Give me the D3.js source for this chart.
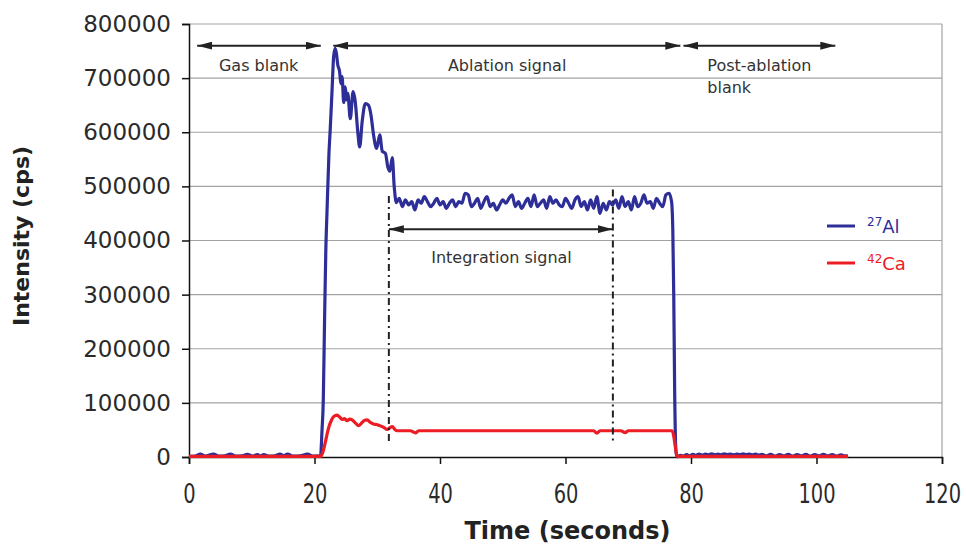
<!DOCTYPE html>
<html>
<head>
<meta charset="utf-8">
<script src="https://cdn.jsdelivr.net/npm/d3@7"></script>
<style>
  body { margin: 0; background: #fff; }
  svg { display: block; font-family: "DejaVu Sans", Verdana, sans-serif; }
</style>
</head>
<body>
<div id="chart"></div>
<script>
// ---- data ----
const xTicks = [0, 20, 40, 60, 80, 100, 120];
const yTicks = [0, 100000, 200000, 300000, 400000, 500000, 600000, 700000, 800000];

const alTime = [
  0, 1, 1.8, 2.6, 3.9, 4.8, 5.7, 6.6, 7.5, 8.4, 9.3, 10.1, 10.9, 11.4, 11.9, 12.8, 13.7, 14.5, 15.1, 15.7,
  16.6, 17.7, 18.9, 19.7, 20.5, 20.95,
  21.2, 21.4, 21.6, 21.8, 22.0, 22.3, 22.5, 22.8, 23.05, 23.3, 23.5, 23.7, 24.0, 24.2, 24.4, 24.65, 24.9,
  25.1, 25.3, 25.7, 26.15, 26.5, 26.9, 27.2, 27.6, 28.1, 28.6, 29.0, 29.4, 29.9, 30.4, 30.8, 31.3, 31.7,
  32.0, 32.4, 32.7, 33.05,
  33.5, 34, 34.5, 35, 35.5, 36, 36.5, 37, 37.5, 38, 38.5, 39, 39.5, 40, 40.5, 41, 41.5, 42, 42.5, 43,
  43.5, 44, 44.5, 45, 45.5, 46, 46.5, 47, 47.5, 48, 48.5, 49, 49.5, 50, 50.5, 51, 51.5, 52, 52.5, 53,
  53.5, 54, 54.5, 55, 55.5, 56, 56.5, 57, 57.5, 58, 58.5, 59, 59.5, 60, 60.5, 61, 61.5, 62, 62.5, 63,
  63.5, 64, 64.5, 65, 65.5, 66, 66.5, 67, 67.5, 68, 68.5, 69, 69.5, 70, 70.5, 71, 71.5, 72, 72.5, 73,
  73.5, 74, 74.5, 75, 75.5, 76, 76.5,
  76.9, 77.1, 77.25, 77.4, 77.6, 77.8,
  78.3, 78.8, 79.3, 79.8, 80.3, 80.8, 81.3, 81.8, 82.3, 82.8, 83.3, 83.8, 84.3, 84.8, 85.3, 85.8, 86.3,
  86.8, 87.3, 87.8, 88.3, 88.8, 89.3, 89.8, 90.3, 90.8, 91.3, 92.0, 92.7, 93.4, 94.1, 94.8, 95.5, 96.2,
  96.9, 97.6, 98.3, 99.0, 99.7, 100.4, 101.1, 101.8, 102.5, 103.2, 103.9, 104.6, 105.0
];
const alValue = [
  1000, 1500, 5500, 1500, 5500, 1500, 2000, 5500, 1500, 2000, 5000, 1500, 4500, 1500, 4500, 1500, 2000, 5500, 2500, 5500,
  1500, 2000, 5500, 1500, 2000, 1000,
  50000, 105000, 250000, 380000, 456000, 560000, 604000, 678000, 740000, 755000, 745000, 725000, 712000, 690000, 703000, 655000, 684000,
  660000, 672000, 625000, 675000, 656000, 600000, 573000, 620000, 653000, 650000, 632000, 596000, 570000, 595000, 565000, 561000, 535000,
  528000, 553000, 500000, 470000,
  478000, 462600, 475000, 465700, 471800, 456500, 475000, 468800, 481000, 471800,
  462600, 468800, 478000, 465700, 471800, 459500, 468800, 475000, 462600, 471800,
  468800, 487300, 484200, 462600, 468800, 478000, 459500, 471800, 481000, 462600,
  468800, 456500, 465700, 475000, 468800, 478000, 484200, 462600, 471800, 459500,
  468800, 478000, 462600, 484200, 462600, 468800, 475000, 459500, 481000, 468800,
  475000, 465700, 462600, 478000, 468800, 459500, 475000, 481000, 462600, 471800,
  456500, 475000, 459500, 481000, 450300, 468800, 456500, 471800, 465700, 475000,
  459500, 481000, 462600, 471800, 456500, 481000, 462600, 468800, 484200, 468800,
  471800, 459500, 478000, 468800, 462600, 484200, 487300,
  472000, 420000, 300000, 120000, 10000, 500,
  3000, 1500, 4500, 2000, 5000, 3000, 5500, 3500, 5500, 4000, 6000, 4000, 5500, 4000, 6000, 4500, 5500,
  4000, 5500, 4500, 6000, 4500, 5500, 4000, 5500, 3500, 5000, 2000, 5000, 1500, 4500, 2000, 5000, 1500,
  4500, 2000, 5000, 1500, 4500, 2000, 5000, 2000, 4500, 1500, 4000, 1500, 2500
];

const caTime = [
  0, 20.95, 21.3, 21.7, 22.0, 22.3, 22.7, 23.05, 23.6, 24.0, 24.4, 24.8, 25.2, 25.6, 26.0,
  26.5, 27.05, 27.6, 28.0, 28.4, 28.9, 29.4, 29.9, 30.5, 31.0, 31.6, 32.0, 32.4, 32.8, 33.2,
  35.3, 35.8, 36.1, 36.6, 64.5, 65.0, 65.5, 68.8, 69.5, 70.0, 77.0, 77.3, 77.5, 77.8, 105
];
const caValue = [
  1000, 1000, 8000, 26000, 42000, 56000, 68000, 74500, 77500, 74000, 69500, 71000, 67000, 70000, 68500,
  63000, 58000, 64000, 68000, 68500, 64000, 61000, 60000, 57500, 55000, 51000, 54000, 56000, 51000, 48500,
  48500, 46000, 44500, 48500, 48500, 44000, 48500, 48500, 45000, 48500, 48500, 35000, 19000, 1000, 1000
];

// phase arrows along the top (seconds) and their labels
const phaseLabels = ['Gas blank', 'Ablation signal', 'Post-ablation'];
const phaseStart = [1.3, 23.0, 78.8];
const phaseEnd = [21.0, 78.3, 103.0];
const phaseLevel = 760000;

// integration window
const integStart = 31.85;
const integEnd = 67.55;
const integLevel = 421000;

const seriesNames = ['27Al', '42Ca'];

if (alTime.length !== alValue.length || caTime.length !== caValue.length) {
  console.error('series length mismatch', alTime.length, alValue.length, caTime.length, caValue.length);
}

// ---- layout ----
const W = 966, H = 552;
const margin = { top: 24, right: 24, bottom: 95, left: 189 };
const innerW = W - margin.left - margin.right;
const innerH = H - margin.top - margin.bottom;

const alColor = '#2e2e98';
const caColor = '#ec1c24';
const inkColor = '#222';

const svg = d3.select('#chart').append('svg')
  .attr('width', W)
  .attr('height', H);

const defs = svg.append('defs');
['arrowEnd', 'arrowStart'].forEach(id => {
  defs.append('marker')
    .attr('id', id)
    .attr('viewBox', '0 0 15 8')
    .attr('refX', id === 'arrowEnd' ? 15 : 0)
    .attr('refY', 4)
    .attr('markerWidth', 15)
    .attr('markerHeight', 8)
    .attr('markerUnits', 'userSpaceOnUse')
    .attr('orient', 'auto')
    .append('path')
    .attr('d', id === 'arrowEnd' ? 'M0,0 L15,4 L0,8 Z' : 'M15,0 L0,4 L15,8 Z')
    .attr('fill', inkColor);
});

const g = svg.append('g').attr('transform', `translate(${margin.left},${margin.top})`);

const x = d3.scaleLinear().domain([0, 120]).range([0, innerW]);
const y = d3.scaleLinear().domain([0, 800000]).range([innerH, 0]);

// gridlines
g.append('g')
  .selectAll('line')
  .data(yTicks.filter(d => d > 0))
  .join('line')
  .attr('x1', 0).attr('x2', innerW)
  .attr('y1', d => y(d)).attr('y2', d => y(d))
  .attr('stroke', '#a3a3a3')
  .attr('stroke-width', 1.2);

// right border
g.append('line')
  .attr('x1', innerW).attr('x2', innerW)
  .attr('y1', 0).attr('y2', innerH)
  .attr('stroke', '#a3a3a3')
  .attr('stroke-width', 1.2);

// axes
const yAxis = g.append('g')
  .call(d3.axisLeft(y).tickValues(yTicks).tickFormat(d3.format('d')).tickSize(7).tickPadding(11));
yAxis.selectAll('text').attr('font-size', 23).attr('fill', '#2a2a2a').attr('font-family', '"DejaVu Sans", Verdana, sans-serif');

const xAxis = g.append('g')
  .attr('transform', `translate(0,${innerH})`)
  .call(d3.axisBottom(x).tickValues(xTicks).tickSize(7).tickPadding(20));
xAxis.selectAll('text')
  .attr('font-size', 27)
  .attr('fill', '#2a2a2a')
  .attr('font-family', '"DejaVu Sans", Verdana, sans-serif')
  .attr('transform', 'scale(0.72,1)');

[yAxis, xAxis].forEach(a => {
  a.select('.domain').attr('stroke', '#111').attr('stroke-width', 1.5);
  a.selectAll('.tick line').attr('stroke', '#111').attr('stroke-width', 1.5);
});

// axis titles
svg.append('text')
  .attr('transform', `translate(29,${margin.top + 212}) rotate(-90)`)
  .attr('text-anchor', 'middle')
  .attr('font-size', 22)
  .attr('font-weight', 'bold')
  .attr('fill', '#222')
  .text('Intensity (cps)');

svg.append('text')
  .attr('x', margin.left + x(60) + 2)
  .attr('y', 539)
  .attr('text-anchor', 'middle')
  .attr('font-size', 24)
  .attr('font-weight', 'bold')
  .attr('fill', '#222')
  .text('Time (seconds)');

// series lines
const line = d3.line()
  .x(d => x(d[0]))
  .y(d => y(d[1]))
  .curve(d3.curveMonotoneX);

g.append('path')
  .datum(d3.zip(alTime, alValue))
  .attr('d', line)
  .attr('fill', 'none')
  .attr('stroke', alColor)
  .attr('stroke-width', 3.2)
  .attr('stroke-linejoin', 'round');

g.append('path')
  .datum(d3.zip(caTime, caValue))
  .attr('d', line)
  .attr('fill', 'none')
  .attr('stroke', caColor)
  .attr('stroke-width', 3.2)
  .attr('stroke-linejoin', 'round');

// phase arrows
g.append('g')
  .selectAll('line')
  .data(d3.zip(phaseStart, phaseEnd))
  .join('line')
  .attr('x1', d => x(d[0])).attr('x2', d => x(d[1]))
  .attr('y1', y(phaseLevel)).attr('y2', y(phaseLevel))
  .attr('stroke', inkColor)
  .attr('stroke-width', 2)
  .attr('marker-start', 'url(#arrowStart)')
  .attr('marker-end', 'url(#arrowEnd)');

const annoFont = 16;
g.append('text')
  .attr('x', x(11.1)).attr('y', y(713000))
  .attr('text-anchor', 'middle')
  .attr('font-size', annoFont).attr('fill', '#333')
  .text(phaseLabels[0]);
g.append('text')
  .attr('x', x(50.7)).attr('y', y(713000))
  .attr('text-anchor', 'middle')
  .attr('font-size', annoFont).attr('fill', '#333')
  .text(phaseLabels[1]);
const post = g.append('text')
  .attr('x', x(82.6)).attr('y', y(713000))
  .attr('font-size', annoFont).attr('fill', '#333');
post.append('tspan').text(phaseLabels[2]);
post.append('tspan').attr('x', x(82.6)).attr('dy', 22).text('blank');

// integration window: dash-dot bounds and arrow
g.append('g')
  .selectAll('line')
  .data([integStart, integEnd])
  .join('line')
  .attr('x1', d => x(d)).attr('x2', d => x(d))
  .attr('y1', (d, i) => y(i === 0 ? 482000 : 494000)).attr('y2', y(27000))
  .attr('stroke', inkColor)
  .attr('stroke-width', 2)
  .attr('stroke-dasharray', '7,4,2,4');

g.append('line')
  .attr('x1', x(integStart)).attr('x2', x(integEnd))
  .attr('y1', y(integLevel)).attr('y2', y(integLevel))
  .attr('stroke', inkColor)
  .attr('stroke-width', 2)
  .attr('marker-start', 'url(#arrowStart)')
  .attr('marker-end', 'url(#arrowEnd)');

g.append('text')
  .attr('x', x(49.8)).attr('y', y(358500))
  .attr('text-anchor', 'middle')
  .attr('font-size', annoFont).attr('fill', '#333')
  .text('Integration signal');

// legend
const legend = svg.append('g').attr('transform', 'translate(827,226)');
const legendColors = [alColor, caColor];
const legendItem = legend.selectAll('g')
  .data(seriesNames)
  .join('g')
  .attr('transform', (d, i) => `translate(0,${i * 37})`);
legendItem.append('line')
  .attr('x1', 0).attr('x2', 28)
  .attr('stroke', (d, i) => legendColors[i])
  .attr('stroke-width', 3);
const lt = legendItem.append('text')
  .attr('x', 40).attr('y', 7)
  .attr('fill', (d, i) => legendColors[i])
  .attr('font-size', 18);
lt.append('tspan')
  .attr('font-size', 12)
  .attr('dy', -7)
  .text(d => d.slice(0, 2));
lt.append('tspan')
  .attr('dy', 7)
  .text(d => d.slice(2));
</script>
</body>
</html>
